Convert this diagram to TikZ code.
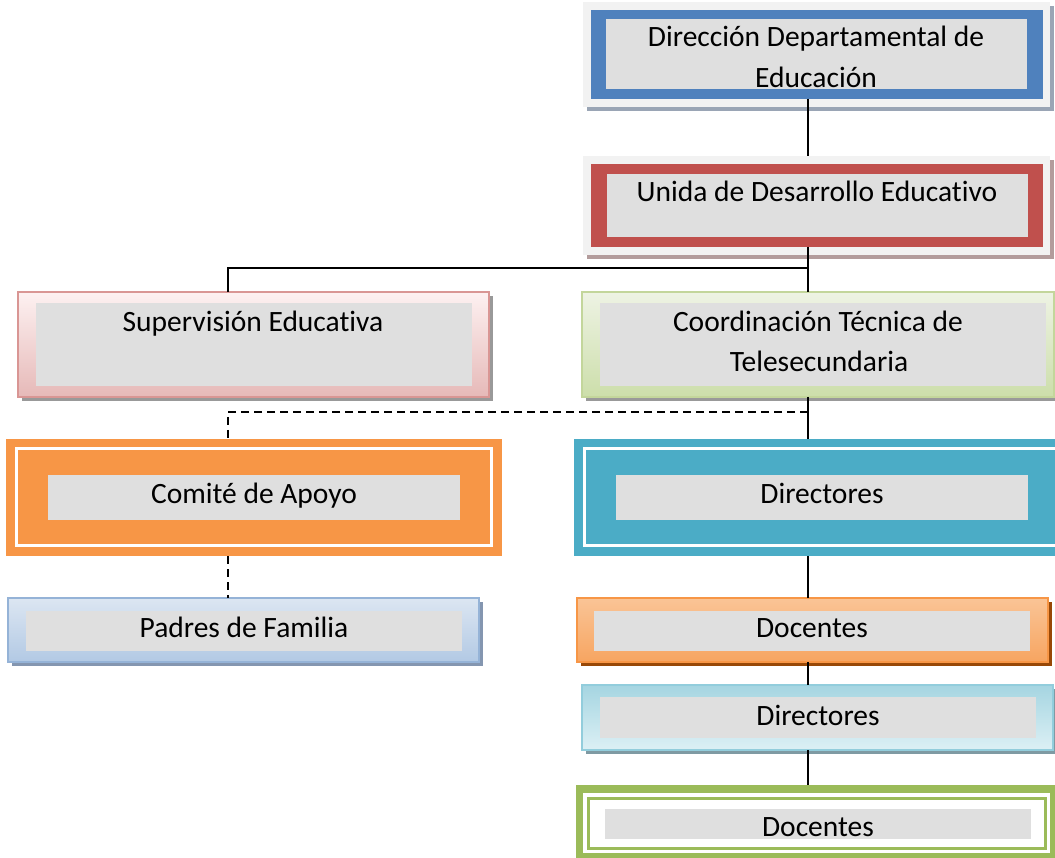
\documentclass[tikz,border=0pt]{standalone}
\usepackage{fontspec}
\setmainfont{Carlito}[Ligatures=NoCommon]
\usetikzlibrary{fit,shadows}
\definecolor{framegray}{HTML}{F2F2F2}
\definecolor{innergray}{HTML}{DFDFDF}
\definecolor{blueA}{HTML}{4F81BD}
\definecolor{redA}{HTML}{C0504D}
\definecolor{orangeA}{HTML}{F79646}
\definecolor{tealA}{HTML}{4BACC6}
\definecolor{greenA}{HTML}{9BBB59}
\definecolor{shBlue}{HTML}{9AA5B5}
\definecolor{shRed}{HTML}{B39C9C}
\definecolor{shGray}{HTML}{999999}
\definecolor{pinkTop}{HTML}{FDF1F1}
\definecolor{pinkBot}{HTML}{E6B9B8}
\definecolor{pinkLine}{HTML}{D99694}
\definecolor{grTop}{HTML}{EEF3E4}
\definecolor{grBot}{HTML}{CCDEAA}
\definecolor{grLine}{HTML}{C3D69B}
\definecolor{blTop}{HTML}{DCE6F2}
\definecolor{blBot}{HTML}{B2C9E4}
\definecolor{blLine}{HTML}{95B3D7}
\definecolor{shBl}{HTML}{8496B0}
\definecolor{orTop}{HTML}{FAC496}
\definecolor{orBot}{HTML}{F7A561}
\definecolor{shOr}{HTML}{984807}
\definecolor{aqTop}{HTML}{A5D5E1}
\definecolor{aqBot}{HTML}{DCF0F5}
\definecolor{aqLine}{HTML}{92CDDC}
\definecolor{shAq}{HTML}{7F9AA3}
\begin{document}
\begin{tikzpicture}[x=1pt,y=-1pt,
  frame/.style={rectangle, inner sep=0pt, outer sep=0pt},
  shad/.style={drop shadow={shadow xshift=4pt, shadow yshift=-4pt, fill=#1, opacity=1}},
  inner/.style={frame, fill=innergray},
  lbl/.style={anchor=base, inner sep=0pt, font=\fontsize{29.5}{36}\selectfont},
  conn/.style={line width=2pt, black},
  dconn/.style={conn, dash pattern=on 8pt off 5pt}]
\useasboundingbox (0,0) rectangle (1055,858);
% Box 1
\node[frame, fit={(583,2)(1050,107)}, fill=framegray, shad=shBlue] (o1) {};
\node[frame, fit={(591,10)(1043,99)}, fill=blueA] (b1) {};
\node[inner, fit={(606,19)(1027,89)}] (g1) {};
\node[lbl] (t1a) at (816,47) {Dirección Departamental de};
\node[lbl] (t1b) at (816,88) {Educación};
% Box 2
\node[frame, fit={(583,156)(1050,255)}, fill=framegray, shad=shRed] (o2) {};
\node[frame, fit={(591,164)(1043,247)}, fill=redA] (b2) {};
\node[inner, fit={(607,174)(1028,237)}] (g2) {};
\node[lbl] (t2) at (817,202) {Unida de Desarrollo Educativo};
% Box 3
\node[frame, fit={(18,292)(489,397)}, top color=pinkTop, bottom color=pinkBot, draw=pinkLine, line width=1.2pt, shad=shGray] (s3) {};
\node[inner, fit={(36,303)(472,386)}] (g3) {};
\node[lbl] (t3) at (253,332) {Supervisión Educativa};
% Box 4
\node[frame, fit={(582,292)(1054,397)}, top color=grTop, bottom color=grBot, draw=grLine, line width=1.2pt, shad=shGray] (s4) {};
\node[inner, fit={(600,303)(1046,386)}] (g4) {};
\node[lbl] (t4a) at (818,332) {Coordinación Técnica de};
\node[lbl] (t4b) at (819,372) {Telesecundaria};
% Box 5
\node[frame, fit={(6,439)(502,556)}, fill=orangeA] (o5) {};
\draw[white, line width=3pt] (16.5,448.5) rectangle (491.5,545.5);
\node[inner, fit={(48,475)(460,520)}] (g5) {};
\node[lbl] (t5) at (254,503) {Comité de Apoyo};
% Box 6
\node[frame, fit={(8,598)(479,662)}, top color=blTop, bottom color=blBot, draw=blLine, line width=1.2pt, shad=shBl] (s6) {};
\node[inner, fit={(26,611)(462,651)}] (g6) {};
\node[lbl] (t6) at (244,637) {Padres de Familia};
% Box 7
\node[frame, fit={(574,439)(1066,556)}, fill=tealA] (o7) {};
\draw[white, line width=3pt] (584.5,448.5) rectangle (1075,545.5);
\node[inner, fit={(616,475)(1028,520)}] (g7) {};
\node[lbl] (t7) at (822,503) {Directores};
% Box 8
\node[frame, fit={(577,598)(1048,662)}, top color=orTop, bottom color=orBot, draw=orangeA, line width=1.2pt, shad=shOr] (s8) {};
\node[inner, fit={(594,611)(1030,651)}] (g8) {};
\node[lbl] (t8) at (812,637) {Docentes};
% Box 9
\node[frame, fit={(582,685)(1053,750)}, top color=aqTop, bottom color=aqBot, draw=aqLine, line width=1.2pt, shad=shAq] (s9) {};
\node[inner, fit={(600,697)(1036,738)}] (g9) {};
\node[lbl] (t9) at (818,725) {Directores};
% Box 10
\node[frame, fit={(576,785)(1055,858)}, fill=greenA] (o10) {};
\fill[white] (583,793) rectangle (1050,853);
\fill[greenA] (587,797) rectangle (1047,850);
\fill[white] (590,800) rectangle (1044,847);
\node[inner, fit={(605,809)(1031,839)}] (g10) {};
\node[lbl] (t10) at (818,836) {Docentes};
% Connectors
\coordinate (rs) at (808,0);
\coordinate (ls) at (228,0);
\coordinate (j1) at (808,268);
\coordinate (j2) at (228,268);
\coordinate (j3) at (808,412);
\coordinate (j4) at (228,412);
\draw[conn] (b1.south -| rs) -- (o2.north -| rs);
\draw[conn] (b2.south -| rs) -- (j1) -- (s4.north -| rs);
\draw[conn] (j1) -- (j2) -- (s3.north -| ls);
\draw[conn] (s4.south -| rs) -- (o7.north -| rs);
\draw[dconn] (j3) -- (j4) -- (o5.north -| ls);
\draw[dconn] (o5.south -| ls) -- (s6.north -| ls);
\draw[conn] (o7.south -| rs) -- (s8.north -| rs);
\draw[conn] (s8.south -| rs) -- (s9.north -| rs);
\draw[conn] (s9.south -| rs) -- (o10.north -| rs);
\end{tikzpicture}
\end{document}
